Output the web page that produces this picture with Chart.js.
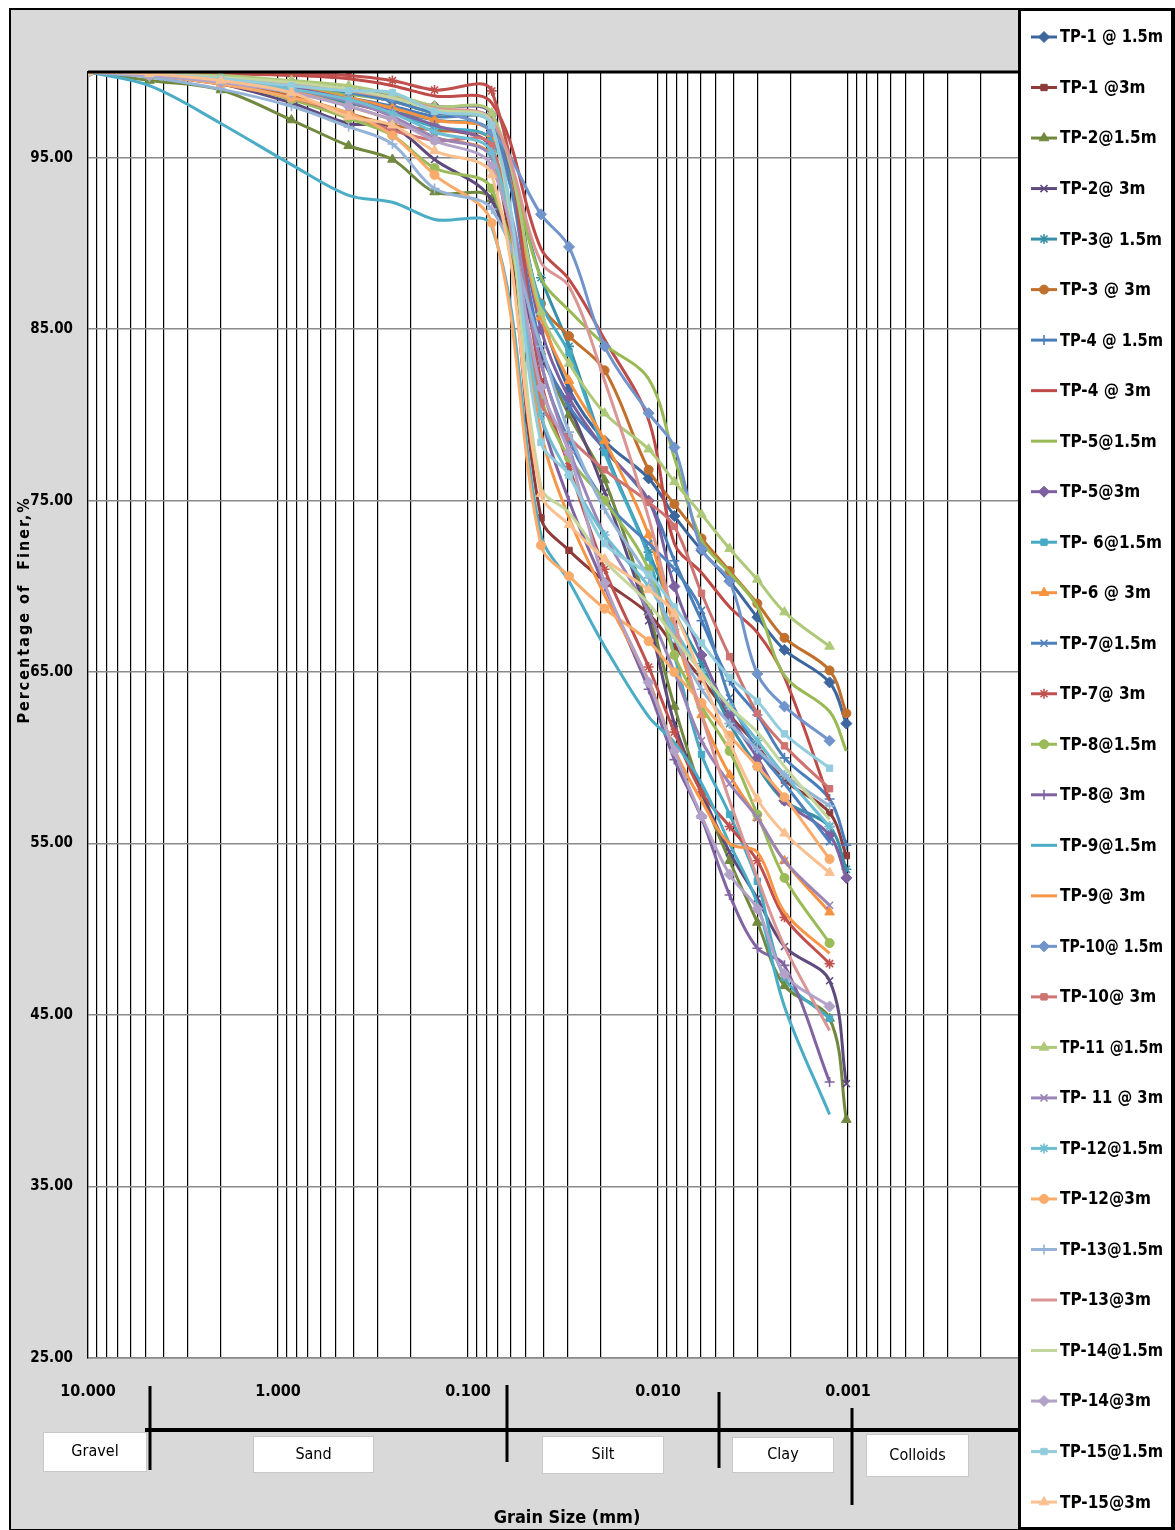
<!DOCTYPE html>
<html>
<head>
<meta charset="utf-8">
<title>Grain Size Distribution</title>
<script src="https://cdn.jsdelivr.net/npm/chart.js@4.4.1/dist/chart.umd.min.js"></script>
<style>
html,body{margin:0;padding:0;background:#fff;}
#chart{display:block;}
</style>
</head>
<body>
<canvas id="chart" width="1175" height="1530"></canvas>
<script>

/* grain sizes (mm): sieve analysis then hydrometer readings */
let sieveSizes = [10, 4.75, 2, 0.85, 0.425, 0.25, 0.15, 0.075];
let hydroSizes = [0.0413, 0.0294, 0.0191, 0.0112, 0.0082, 0.0059, 0.0042, 0.0030, 0.00216, 0.00125, 0.00102];

let decadeLabels = ["10.000", "1.000", "0.100", "0.010", "0.001"];
let yTickValues = [25, 35, 45, 55, 65, 75, 85, 95];

let sampleNames = [
"TP-1 @ 1.5m","TP-1 @3m","TP-2@1.5m","TP-2@ 3m","TP-3@ 1.5m","TP-3 @ 3m",
"TP-4 @ 1.5m","TP-4 @ 3m","TP-5@1.5m","TP-5@3m","TP- 6@1.5m","TP-6 @ 3m",
"TP-7@1.5m","TP-7@ 3m","TP-8@1.5m","TP-8@ 3m","TP-9@1.5m","TP-9@ 3m",
"TP-10@ 1.5m","TP-10@ 3m","TP-11 @1.5m","TP- 11 @ 3m","TP-12@1.5m","TP-12@3m",
"TP-13@1.5m","TP-13@3m","TP-14@1.5m","TP-14@3m","TP-15@1.5m","TP-15@3m"
];

/* percentage finer, one array per sample, same order as sieveSizes + hydroSizes */
let tp1_15 = [100, 99.9, 99.6, 99.3, 98.8, 98.3, 97.6, 97.2, 86.0, 81.5, 78.5, 76.3, 74.1, 72.1, 70.3, 68.2, 66.3, 64.4, 62.0];
let tp1_3  = [100, 99.9, 99.6, 99.0, 98.2, 97.6, 96.8, 95.5, 74.0, 72.1, 70.3, 68.4, 66.5, 64.6, 62.5, 60.7, 58.7, 56.8, 54.3];
let tp2_15 = [100, 99.5, 98.95, 97.2, 95.7, 94.9, 93.0, 92.6, 83.7, 80.0, 76.2, 68.5, 63.0, 58.0, 54.0, 50.4, 46.7, 44.8, 38.9];
let tp2_3  = [100, 99.8, 99.3, 98.2, 97.0, 96.8, 94.9, 92.5, 83.5, 80.5, 75.5, 68.0, 62.0, 58.0, 54.5, 51.8, 49.0, 47.0, 41.0];
let tp3_15 = [100, 99.8, 99.4, 98.8, 98.2, 97.7, 97.2, 96.5, 88.0, 84.0, 78.0, 72.0, 68.5, 65.5, 62.0, 59.5, 57.5, 56.0, 53.5];
let tp3_3  = [100, 99.8, 99.3, 98.6, 97.6, 96.9, 96.6, 96.0, 86.5, 84.6, 82.6, 76.8, 74.8, 72.8, 70.9, 69.0, 67.0, 65.1, 62.6];
let tp4_15 = [100, 99.9, 99.6, 99.0, 98.5, 98.0, 97.4, 97.0, 84.0, 80.5, 78.0, 75.0, 71.5, 68.0, 64.5, 62.5, 60.0, 57.6, 54.9];
let tp4_3  = [100, 100, 99.9, 99.8, 99.6, 99.2, 98.6, 98.2, 89.7, 87.9, 84.4, 79.7, 72.5, 70.8, 68.8, 67.3, 64.7, 57.5];
let tp5_15 = [100, 99.8, 99.5, 99.1, 98.7, 98.3, 97.6, 97.0, 88.0, 86.1, 84.1, 82.1, 77.5, 72.7, 70.8, 68.8, 64.8, 62.7, 60.4];
let tp5_3  = [100, 99.9, 99.7, 99.4, 99.0, 98.6, 98.0, 97.5, 85.0, 81.0, 78.0, 75.0, 70.0, 66.0, 62.5, 60.0, 57.5, 55.5, 53.0];
let tp6_15 = [100, 99.9, 99.5, 99.0, 98.3, 97.6, 96.8, 96.0, 86.5, 83.6, 77.8, 71.7, 66.0, 60.2, 56.7, 52.8, 47.2, 44.8];
let tp6_3  = [100, 99.9, 99.6, 99.1, 98.5, 97.9, 97.2, 96.4, 85.7, 82.0, 78.5, 73.0, 67.5, 62.5, 59.0, 56.5, 54.0, 51.0];
let tp7_15 = [100, 99.9, 99.7, 99.3, 98.8, 98.3, 97.6, 97.0, 83.0, 78.5, 75.0, 72.5, 71.0, 68.6, 63.5, 60.5, 58.5, 55.1];
let tp7_3  = [100, 100, 100, 99.9, 99.8, 99.5, 98.95, 98.9, 82.0, 77.0, 71.0, 65.3, 61.5, 58.0, 56.0, 54.0, 50.7, 48.0];
let tp8_15 = [100, 99.8, 99.4, 98.4, 97.3, 96.3, 94.4, 93.2, 81.0, 77.5, 75.0, 71.0, 66.0, 63.0, 60.4, 56.7, 53.0, 49.2];
let tp8_3  = [100, 99.9, 99.6, 99.1, 98.4, 97.7, 96.9, 95.5, 80.0, 75.0, 70.0, 64.0, 59.9, 56.5, 52.0, 48.9, 47.9, 41.1];
let tp9_15 = [100, 99.2, 97.0, 94.6, 92.8, 92.4, 91.4, 91.0, 73.0, 70.3, 66.5, 62.4, 60.9, 58.5, 55.0, 51.5, 45.5, 39.2];
let tp9_3  = [100, 99.9, 99.5, 98.9, 98.0, 97.2, 96.2, 95.0, 79.0, 74.0, 69.5, 64.5, 60.5, 57.5, 55.0, 54.5, 51.0, 48.6];
let tp10_15 = [100, 99.9, 99.7, 99.4, 99.0, 98.5, 97.8, 96.5, 91.7, 89.8, 84.0, 80.1, 78.1, 72.2, 70.3, 64.9, 63.0, 61.0];
let tp10_3  = [100, 99.8, 99.3, 98.5, 97.5, 96.6, 96.0, 95.7, 80.7, 78.7, 76.8, 74.9, 73.5, 69.6, 65.9, 62.6, 60.7, 58.2];
let tp11_15 = [100, 99.9, 99.8, 99.5, 99.2, 98.7, 98.0, 97.6, 86.0, 83.0, 80.1, 78.0, 76.1, 74.2, 72.2, 70.4, 68.5, 66.5];
let tp11_3  = [100, 99.9, 99.6, 99.0, 98.3, 97.4, 96.2, 95.0, 83.0, 78.0, 73.0, 68.5, 65.0, 61.0, 58.5, 56.5, 54.0, 51.4];
let tp12_15 = [100, 99.9, 99.6, 99.0, 98.4, 97.6, 96.5, 95.3, 80.0, 76.5, 73.0, 70.0, 67.5, 65.0, 63.0, 61.0, 59.0, 56.0];
let tp12_3  = [100, 99.8, 99.3, 98.5, 97.6, 96.3, 94.0, 91.2, 72.4, 70.6, 68.7, 66.8, 65.0, 63.2, 61.3, 59.5, 57.7, 54.1];
let tp13_15 = [100, 99.7, 99.0, 98.0, 96.8, 95.8, 93.2, 92.0, 84.0, 79.0, 74.5, 70.5, 67.0, 64.0, 62.0, 60.5, 59.0, 57.2];
let tp13_3  = [100, 99.9, 99.7, 99.3, 98.9, 98.5, 97.9, 97.2, 88.9, 87.5, 82.0, 74.0, 68.0, 62.5, 57.5, 53.0, 49.0, 44.1];
let tp14_15 = [100, 99.9, 99.7, 99.4, 99.0, 98.5, 97.8, 97.0, 75.8, 74.3, 71.5, 69.0, 67.0, 65.0, 63.0, 61.5, 59.5, 56.4];
let tp14_3  = [100, 99.8, 99.4, 98.8, 98.0, 97.2, 96.0, 94.5, 81.6, 77.8, 70.2, 64.4, 60.4, 56.6, 53.2, 51.2, 47.4, 45.5];
let tp15_15 = [100, 99.9, 99.6, 99.2, 98.9, 98.8, 97.7, 96.9, 78.4, 76.5, 72.5, 70.7, 68.8, 66.7, 64.7, 63.3, 61.4, 59.4];
let tp15_3  = [100, 99.9, 99.5, 98.8, 97.4, 96.9, 95.4, 94.0, 75.4, 73.6, 71.6, 69.8, 68.4, 64.7, 60.9, 57.6, 55.6, 53.3];

let sampleValues = [
tp1_15, tp1_3, tp2_15, tp2_3, tp3_15, tp3_3, tp4_15, tp4_3, tp5_15, tp5_3,
tp6_15, tp6_3, tp7_15, tp7_3, tp8_15, tp8_3, tp9_15, tp9_3, tp10_15, tp10_3,
tp11_15, tp11_3, tp12_15, tp12_3, tp13_15, tp13_3, tp14_15, tp14_3, tp15_15, tp15_3
];

let seriesColors = [
"#3D669E","#8E3B39","#71893F","#5E4A7C","#3790A8","#C0702C",
"#4A7EBB","#BE4B48","#98B954","#7D60A0","#46AAC5","#F69240",
"#4F81BD","#C0504D","#9BBB59","#8064A2","#4BACC6","#F79646",
"#7094CB","#CD7371","#AFC97A","#9A85B6","#6FBDD1","#F9AB6B",
"#95B3D7","#D99694","#C3D69B","#B3A2C7","#93CDDD","#FAC090"
];

/* marker cycle: diamond, square, triangle, x, asterisk, circle, plus, none, none */
let markerCycle = ["rectRot","rect","triangle","crossRot","star","circle","cross",false,false];

let soilBands = [
{name:"Gravel", x1:43, x2:147, y1:1432, y2:1472},
{name:"Sand", x1:253, x2:374, y1:1436, y2:1473},
{name:"Silt", x1:542, x2:664, y1:1436, y2:1474},
{name:"Clay", x1:732, x2:834, y1:1437, y2:1473},
{name:"Colloids", x1:866, x2:969, y1:1434, y2:1477}
];

let NARROW = "'DejaVu Sans Condensed',sans-serif";

let allSizes = sieveSizes.concat(hydroSizes);

function markerRadius(style){
if(style === "rect") return 4.5;
if(style === "circle") return 4.5;
if(style === "triangle") return 5.5;
if(style === "rectRot") return 5.5;
return 5;
}

let datasets = sampleValues.map((vals, i) => {
let style = markerCycle[i % 9];
return {
label: sampleNames[i],
data: vals.map((v, k) => ({x: allSizes[k], y: v})),
borderColor: seriesColors[i],
backgroundColor: seriesColors[i],
borderWidth: 3,
pointStyle: style || "circle",
pointRadius: style ? markerRadius(style) : 0,
pointBorderWidth: (style === "crossRot" || style === "cross" || style === "star") ? 1.6 : 1,
pointHoverRadius: 0,
tension: 0.35,
fill: false,
order: sampleValues.length - i
};
});

/* x grid: every 1..9 step of each decade */
let xMin = Math.pow(10, 1 - (1018 - 88) / 190);

function logGridValues(){
let vals = [];
[1, 0.1, 0.01, 0.001, 0.0001].forEach(d => {
for(let m = 9; m >= 1; m--){
let v = parseFloat((m * d).toPrecision(3));
if(v >= xMin && v <= 10) vals.push(v);
}
});
vals.unshift(10);
return vals;
}

function isDecade(v){
let l = Math.log10(v);
return Math.abs(l - Math.round(l)) < 1e-6;
}

let pagePlugin = {
id: "pageDecor",
beforeDraw(chart){
let ctx = chart.ctx;
let a = chart.chartArea;
ctx.save();
ctx.fillStyle = "#ffffff";
ctx.fillRect(0, 0, chart.width, chart.height);
ctx.fillStyle = "#d9d9d9";
ctx.fillRect(10, 9, 1010, 1521);
ctx.fillStyle = "#ffffff";
ctx.fillRect(a.left, a.top, a.right - a.left, a.bottom - a.top);
ctx.restore();
},
afterDraw(chart){
let ctx = chart.ctx;
let a = chart.chartArea;
ctx.save();

/* heavy line along the top of the plot */
ctx.strokeStyle = "#000";
ctx.lineWidth = 3;
ctx.beginPath();
ctx.moveTo(a.left, a.top);
ctx.lineTo(a.right, a.top);
ctx.stroke();

/* y axis title */
ctx.fillStyle = "#000";
ctx.font = "bold 16px 'DejaVu Sans Condensed',sans-serif";
ctx.letterSpacing = "2px";
ctx.textAlign = "center";
ctx.textBaseline = "middle";
ctx.translate(25, 610);
ctx.rotate(-Math.PI / 2);
ctx.fillText("Percentage of  Finer,%", 0, 0);
ctx.setTransform(1, 0, 0, 1, 0, 0);
ctx.letterSpacing = "0px";

/* soil classification bar */
ctx.lineWidth = 4;
ctx.beginPath();
ctx.moveTo(145, 1430);
ctx.lineTo(1018, 1430);
ctx.stroke();
ctx.lineWidth = 3;
[[150, 1386, 1470], [507, 1385, 1462], [719, 1392, 1468], [852, 1408, 1505]].forEach(t => {
ctx.beginPath();
ctx.moveTo(t[0], t[1]);
ctx.lineTo(t[0], t[2]);
ctx.stroke();
});

soilBands.forEach(b => {
ctx.fillStyle = "#ffffff";
ctx.fillRect(b.x1, b.y1, b.x2 - b.x1, b.y2 - b.y1);
ctx.strokeStyle = "#c8c8c8";
ctx.lineWidth = 1;
ctx.strokeRect(b.x1 + 0.5, b.y1 + 0.5, b.x2 - b.x1 - 1, b.y2 - b.y1 - 1);
ctx.fillStyle = "#000";
ctx.font = "16px " + NARROW;
ctx.textAlign = "center";
ctx.textBaseline = "middle";
ctx.fillText(b.name, (b.x1 + b.x2) / 2, (b.y1 + b.y2) / 2);
});

ctx.font = "bold 18px " + NARROW;
ctx.fillText("Grain Size (mm)", 567, 1518);

/* outer frame */
ctx.strokeStyle = "#000";
ctx.lineWidth = 2;
ctx.strokeRect(10, 9, 1164, 1521);

/* legend */
ctx.fillStyle = "#ffffff";
ctx.fillRect(1019, 9, 154, 1519);
ctx.lineWidth = 3;
ctx.strokeRect(1019.5, 9.5, 153, 1519);

chart.data.datasets.forEach((ds, i) => {
let y = 37 + i * 50.52;
ctx.strokeStyle = ds.borderColor;
ctx.lineWidth = 3;
ctx.beginPath();
ctx.moveTo(1031, y);
ctx.lineTo(1057, y);
ctx.stroke();
if(ds.pointRadius > 0){
ctx.fillStyle = ds.backgroundColor;
ctx.strokeStyle = ds.borderColor;
ctx.lineWidth = ds.pointBorderWidth;
Chart.helpers.drawPoint(ctx, {pointStyle: ds.pointStyle, radius: ds.pointRadius, rotation: 0, borderWidth: ds.pointBorderWidth}, 1044, y);
}
ctx.fillStyle = "#000";
ctx.font = "bold 17px " + NARROW;
ctx.textAlign = "left";
ctx.textBaseline = "middle";
ctx.fillText(ds.label, 1060, y + 1, 103);
});

ctx.restore();
}
};

let ctx = document.getElementById("chart").getContext("2d");

let chart = new Chart(ctx, {
type: "line",
data: {datasets: datasets},
options: {
responsive: false,
devicePixelRatio: 1,
animation: false,
events: [],
layout: {padding: {left: 0, top: 72, right: 157, bottom: 0}},
plugins: {
legend: {display: false},
tooltip: {enabled: false}
},
scales: {
x: {
type: "logarithmic",
reverse: true,
min: xMin,
max: 10,
afterFit: scale => { scale.height = 172; },
afterBuildTicks: scale => {
scale.ticks = logGridValues().map(v => ({value: v}));
},
ticks: {
autoSkip: false,
maxRotation: 0,
minRotation: 0,
padding: 24,
color: "#000",
font: {family: "'DejaVu Sans Condensed',sans-serif", size: 16, weight: "bold"},
callback: function(value){
if(!isDecade(value) || value < 0.001) return "";
return decadeLabels[Math.round(1 - Math.log10(value))];
}
},
grid: {color: "#000000", lineWidth: 1.2, drawTicks: false},
border: {color: "#8a8a8a", width: 1.5}
},
y: {
type: "linear",
min: 25,
max: 100,
afterFit: scale => { scale.width = 88; },
afterBuildTicks: scale => {
scale.ticks = yTickValues.map(v => ({value: v}));
},
ticks: {
padding: 15,
color: "#000",
font: {family: NARROW, size: 15, weight: "bold"},
callback: value => value.toFixed(2)
},
grid: {color: "#8a8a8a", lineWidth: 1.5, drawTicks: false},
border: {color: "#000000", width: 1.2}
}
}
},
plugins: [pagePlugin]
});

</script>
</body>
</html>
